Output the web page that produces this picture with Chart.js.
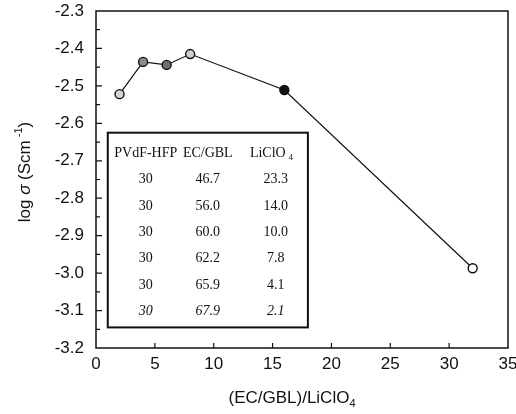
<!DOCTYPE html>
<html>
<head>
<meta charset="utf-8">
<script src="https://cdn.jsdelivr.net/npm/chart.js@4.4.1/dist/chart.umd.min.js"></script>
<style>
  html, body { margin: 0; padding: 0; background: #fff; }
  #wrap { width: 516px; height: 414px; }
</style>
</head>
<body>
<div id="wrap"><canvas id="condChart" width="516" height="414"></canvas></div>
<script>
// (EC/GBL)/LiClO4 ratio vs. log conductivity
const ratios = [2, 4, 6, 8, 16, 32];
const logSigma = [-2.522, -2.436, -2.444, -2.415, -2.511, -2.987];
const pointFills = ['#d4d4d4', '#8c8c8c', '#6e6e6e', '#d0d0d0', '#111111', '#ffffff'];

const xTicks = [0, 5, 10, 15, 20, 25, 30, 35];
const yTicks = [-3.2, -3.1, -3.0, -2.9, -2.8, -2.7, -2.6, -2.5, -2.4, -2.3];

// composition table (wt%)
const tableHeader = ['PVdF-HFP', 'EC/GBL', 'LiClO'];
const colPvdf = ['30', '30', '30', '30', '30', '30'];
const colEcGbl = ['46.7', '56.0', '60.0', '62.2', '65.9', '67.9'];
const colLiClO4 = ['23.3', '14.0', '10.0', '7.8', '4.1', '2.1'];

const SANS = '"Liberation Sans", Arial, sans-serif';
const SERIF = '"Liberation Serif", "Times New Roman", serif';

const framePlugin = {
    id: 'frame',
    afterDraw(chart) {
        const ctx = chart.ctx;
        const a = chart.chartArea;
        const xs = chart.scales.x;
        const ys = chart.scales.y;
        ctx.save();
        ctx.strokeStyle = '#111';
        ctx.lineWidth = 1.5;
        ctx.strokeRect(a.left, a.top, a.right - a.left, a.bottom - a.top);

        // inward tick marks
        ctx.lineWidth = 1.2;
        ctx.beginPath();
        xTicks.slice(1, -1).forEach(v => {
            const px = xs.getPixelForValue(v);
            ctx.moveTo(px, a.bottom);
            ctx.lineTo(px, a.bottom - 5);
        });
        for (let i = 0; i < yTicks.length - 1; i++) {
            const major = ys.getPixelForValue(yTicks[i]);
            const minor = ys.getPixelForValue(yTicks[i] + 0.05);
            if (i > 0) {
                ctx.moveTo(a.left, major);
                ctx.lineTo(a.left + 6, major);
            }
            ctx.moveTo(a.left, minor);
            ctx.lineTo(a.left + 4, minor);
        }
        ctx.stroke();

        // composition table
        const bx0 = xs.getPixelForValue(1);
        const bx1 = xs.getPixelForValue(18);
        const by0 = ys.getPixelForValue(-2.625);
        const by1 = ys.getPixelForValue(-3.145);
        ctx.fillStyle = '#fff';
        ctx.fillRect(bx0, by0, bx1 - bx0, by1 - by0);
        ctx.lineWidth = 2;
        ctx.strokeRect(bx0, by0, bx1 - bx0, by1 - by0);

        const cols = [bx0 + 38, bx0 + 100, bx0 + 160];
        ctx.fillStyle = '#111';
        ctx.textAlign = 'center';
        ctx.textBaseline = 'middle';
        ctx.font = '14px ' + SERIF;
        tableHeader.forEach((t, i) => ctx.fillText(t, cols[i], by0 + 21));
        const w = ctx.measureText(tableHeader[2]).width;
        ctx.font = '9px ' + SERIF;
        ctx.fillText('4', cols[2] + w / 2 + 5, by0 + 25);
        for (let r = 0; r < colPvdf.length; r++) {
            const y = by0 + 47 + r * 26.3;
            ctx.font = (r === colPvdf.length - 1 ? 'italic ' : '') + '14px ' + SERIF;
            ctx.fillText(colPvdf[r], cols[0], y);
            ctx.fillText(colEcGbl[r], cols[1], y);
            ctx.fillText(colLiClO4[r], cols[2] + 8, y);
        }

        // axis titles
        ctx.textAlign = 'left';
        ctx.textBaseline = 'alphabetic';
        const xParts = [['(EC/GBL)/LiClO', '17px ' + SANS, 0], ['4', '11px ' + SANS, 4]];
        drawParts(ctx, xParts, (a.left + a.right) / 2 - 10, 403);

        ctx.save();
        ctx.translate(30, 172);
        ctx.rotate(-Math.PI / 2);
        const yParts = [['log ', '17px ' + SANS, 0], ['\u03C3', 'italic 17px ' + SANS, 0],
            [' (Scm', '17px ' + SANS, 0], [' -1', '11px ' + SANS, -8], [')', '17px ' + SANS, 0]];
        drawParts(ctx, yParts, 0, 0);
        ctx.restore();
        ctx.restore();
    }
};

function drawParts(ctx, parts, cx, y) {
    let total = 0;
    parts.forEach(p => { ctx.font = p[1]; total += ctx.measureText(p[0]).width; });
    let x = cx - total / 2;
    parts.forEach(p => {
        ctx.font = p[1];
        ctx.fillText(p[0], x, y + p[2]);
        x += ctx.measureText(p[0]).width;
    });
}

const ctx = document.getElementById('condChart').getContext('2d');
const condChart = new Chart(ctx, {
    type: 'scatter',
    data: {
        datasets: [{
            data: ratios.map((r, i) => ({ x: r, y: logSigma[i] })),
            showLine: true,
            borderColor: '#111',
            borderWidth: 1.2,
            pointRadius: 4.5,
            pointBorderWidth: 1.4,
            pointBorderColor: '#111',
            pointBackgroundColor: pointFills
        }]
    },
    options: {
        responsive: false,
        animation: false,
        devicePixelRatio: 1,
        layout: { padding: { top: 11, right: 8, left: 0, bottom: 0 } },
        plugins: { legend: { display: false }, tooltip: { enabled: false } },
        scales: {
            x: {
                type: 'linear',
                min: 0,
                max: 35,
                afterBuildTicks: s => { s.ticks = xTicks.map(v => ({ value: v })); },
                afterFit: s => { s.height = 66; s.paddingLeft = 0; s.paddingRight = 0; },
                grid: { display: false, drawTicks: false },
                border: { display: false },
                ticks: { color: '#111', font: { family: SANS, size: 17 }, padding: 6 }
            },
            y: {
                min: -3.2,
                max: -2.3,
                afterBuildTicks: s => { s.ticks = yTicks.map(v => ({ value: v })); },
                afterFit: s => { s.width = 96; s.paddingTop = 0; s.paddingBottom = 0; },
                grid: { display: false, drawTicks: false },
                border: { display: false },
                ticks: {
                    color: '#111',
                    font: { family: SANS, size: 17 },
                    padding: 12,
                    callback: v => v.toFixed(1)
                }
            }
        }
    },
    plugins: [framePlugin]
});
</script>
</body>
</html>
